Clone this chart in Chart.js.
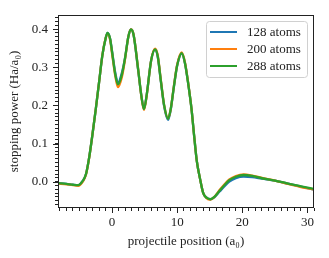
<!DOCTYPE html>
<html>
<head>
<meta charset="utf-8">
<script src="https://cdn.jsdelivr.net/npm/chart.js@4/dist/chart.umd.min.js"></script>
<style>
  html, body { margin: 0; padding: 0; background: #fff; }
  #wrap { width: 329px; height: 258px; }
</style>
</head>
<body>
<div id="wrap"><canvas id="stopChart" width="329" height="258"></canvas></div>
<script>
// projectile positions (a0)
const positions = [-8.3, -7, -6, -5.2, -4.5, -4, -3.5, -3, -2.5, -2, -1.5, -1, -0.7, -0.3, 0, 0.5, 0.9, 1.5, 2, 2.5,
    2.9, 3.3, 4, 4.5, 4.9, 5.3, 6, 6.6, 7, 7.5, 8, 8.6, 9, 9.5, 10, 10.7, 11.2, 11.7, 12.2, 12.6,
    13, 13.5, 14, 14.5, 15.1, 15.7, 16.5, 17.3, 18, 19, 20.2, 21.5, 23, 25, 27, 29, 31];

const power128 = [-0.004, -0.006, -0.008, -0.009, 0.002, 0.02, 0.065, 0.125, 0.19, 0.26,
    0.33, 0.375, 0.39, 0.375, 0.342, 0.285, 0.259, 0.285, 0.325, 0.38,
    0.399, 0.385, 0.293, 0.225, 0.191, 0.226, 0.318, 0.346, 0.328, 0.262,
    0.197, 0.162, 0.188, 0.25, 0.305, 0.336, 0.31, 0.256, 0.19, 0.12,
    0.055, 0.008, -0.03, -0.042, -0.046, -0.041, -0.026, -0.011, 0.0, 0.009,
    0.013, 0.012, 0.008, 0.003, -0.005, -0.013, -0.021];

const power200 = [-0.005, -0.007, -0.009, -0.011, 0.0, 0.019, 0.064, 0.125, 0.19, 0.26,
    0.33, 0.375, 0.388, 0.372, 0.336, 0.277, 0.248, 0.274, 0.322, 0.38,
    0.399, 0.386, 0.296, 0.224, 0.188, 0.224, 0.318, 0.349, 0.332, 0.265,
    0.2, 0.166, 0.19, 0.252, 0.307, 0.339, 0.312, 0.257, 0.19, 0.12,
    0.055, 0.008, -0.03, -0.043, -0.047, -0.04, -0.022, -0.006, 0.006, 0.015,
    0.019, 0.016, 0.01, 0.003, -0.006, -0.014, -0.02];

const power288 = [-0.004, -0.006, -0.008, -0.009, 0.002, 0.02, 0.065, 0.125, 0.19, 0.26,
    0.33, 0.375, 0.39, 0.375, 0.34, 0.28, 0.255, 0.28, 0.325, 0.38,
    0.399, 0.385, 0.295, 0.225, 0.19, 0.225, 0.318, 0.347, 0.33, 0.263,
    0.2, 0.165, 0.19, 0.25, 0.305, 0.337, 0.31, 0.255, 0.19, 0.12,
    0.055, 0.008, -0.03, -0.042, -0.046, -0.04, -0.024, -0.008, 0.004, 0.013,
    0.0175, 0.015, 0.009, 0.003, -0.005, -0.012, -0.019];

const seriesLabels = ['128 atoms', '200 atoms', '288 atoms'];
const seriesColors = ['#1f77b4', '#ff7f0e', '#2ca02c'];

const xMajor = [0, 10, 20, 30];
const yMajor = [0.0, 0.1, 0.2, 0.3, 0.4];

const serif = "'Liberation Serif', 'DejaVu Serif', serif";
const fontSize = 13;

function toPoints(ys) {
    return positions.map((x, i) => ({ x: x, y: ys[i] }));
}

// ticks every 1 a0 on x and every 0.01 on y, labels only on the majors
function minorTicks(from, to, step) {
    const out = [];
    const n = Math.round((to - from) / step);
    for (let i = 0; i <= n; i++) {
        out.push({ value: Math.round((from + i * step) * 1000) / 1000 });
    }
    return out;
}

// draws frame, longer major ticks and the legend inside the plot
const framePlugin = {
    id: 'frame',
    afterDraw(chart) {
        const ctx = chart.ctx;
        const a = chart.chartArea;
        const xs = chart.scales.x;
        const ys = chart.scales.y;
        ctx.save();
        ctx.strokeStyle = '#222';
        ctx.lineWidth = 1;
        ctx.strokeRect(a.left + 0.5, a.top + 0.5, a.right - a.left - 1, a.bottom - a.top - 1);

        ctx.beginPath();
        xMajor.forEach(v => {
            const px = Math.round(xs.getPixelForValue(v)) + 0.5;
            ctx.moveTo(px, a.bottom);
            ctx.lineTo(px, a.bottom + 5);
        });
        yMajor.forEach(v => {
            const py = Math.round(ys.getPixelForValue(v)) + 0.5;
            ctx.moveTo(a.left, py);
            ctx.lineTo(a.left - 5, py);
        });
        ctx.stroke();

        // legend
        const bx = 206, by = 21, bw = 101, bh = 56;
        ctx.fillStyle = 'rgba(255,255,255,0.8)';
        ctx.strokeStyle = '#d0d0d0';
        ctx.beginPath();
        ctx.roundRect(bx + 0.5, by + 0.5, bw, bh, 3);
        ctx.fill();
        ctx.stroke();
        ctx.font = fontSize + 'px ' + serif;
        ctx.textBaseline = 'middle';
        seriesLabels.forEach((lab, i) => {
            const yy = by + 11 + i * 17;
            ctx.strokeStyle = seriesColors[i];
            ctx.lineWidth = 2;
            ctx.beginPath();
            ctx.moveTo(bx + 4, yy);
            ctx.lineTo(bx + 31, yy);
            ctx.stroke();
            ctx.fillStyle = '#222';
            ctx.fillText(lab, bx + 41, yy + 1);
        });
        ctx.restore();
    }
};

const powerSets = [power128, power200, power288];

const ctx = document.getElementById('stopChart').getContext('2d');
const myChart = new Chart(ctx, {
    type: 'line',
    data: {
        datasets: powerSets.map((ys, i) => ({
            label: seriesLabels[i],
            data: toPoints(ys),
            borderColor: seriesColors[i],
            borderWidth: 2.3,
            pointRadius: 0,
            fill: false,
            order: powerSets.length - i, // last series drawn on top
            cubicInterpolationMode: 'monotone'
        }))
    },
    options: {
        responsive: false,
        animation: false,
        devicePixelRatio: 1,
        layout: { padding: { left: 0, right: 15, top: 15, bottom: 0 } },
        plugins: {
            legend: { display: false },
            tooltip: { enabled: false }
        },
        scales: {
            x: {
                type: 'linear',
                min: -8.3,
                max: 31,
                afterBuildTicks: s => { s.ticks = minorTicks(-8, 31, 1); },
                afterFit: s => { s.height = 50; },
                grid: { drawOnChartArea: false, tickLength: 3, color: '#222' },
                border: { display: false },
                ticks: {
                    autoSkip: false,
                    maxRotation: 0,
                    padding: 4,
                    color: '#222',
                    font: { family: serif, size: fontSize },
                    callback: v => (xMajor.includes(v) ? String(v) : '')
                },
                title: {
                    display: true,
                    text: 'projectile position (a₀)',
                    color: '#222',
                    font: { family: serif, size: fontSize },
                    padding: { top: 0, bottom: 9 }
                }
            },
            y: {
                min: -0.069,
                max: 0.437,
                afterBuildTicks: s => { s.ticks = minorTicks(-0.06, 0.43, 0.01); },
                afterFit: s => { s.width = 58; },
                grid: { drawOnChartArea: false, tickLength: 3, color: '#222' },
                border: { display: false },
                ticks: {
                    autoSkip: false,
                    padding: 7,
                    color: '#222',
                    font: { family: serif, size: fontSize },
                    callback: v => (yMajor.some(m => Math.abs(m - v) < 1e-6) ? v.toFixed(1) : '')
                },
                title: {
                    display: true,
                    text: 'stopping power (Ha/a₀)',
                    color: '#222',
                    font: { family: serif, size: fontSize },
                    padding: { top: 7, bottom: 0 }
                }
            }
        }
    },
    plugins: [framePlugin]
});
</script>
</body>
</html>
